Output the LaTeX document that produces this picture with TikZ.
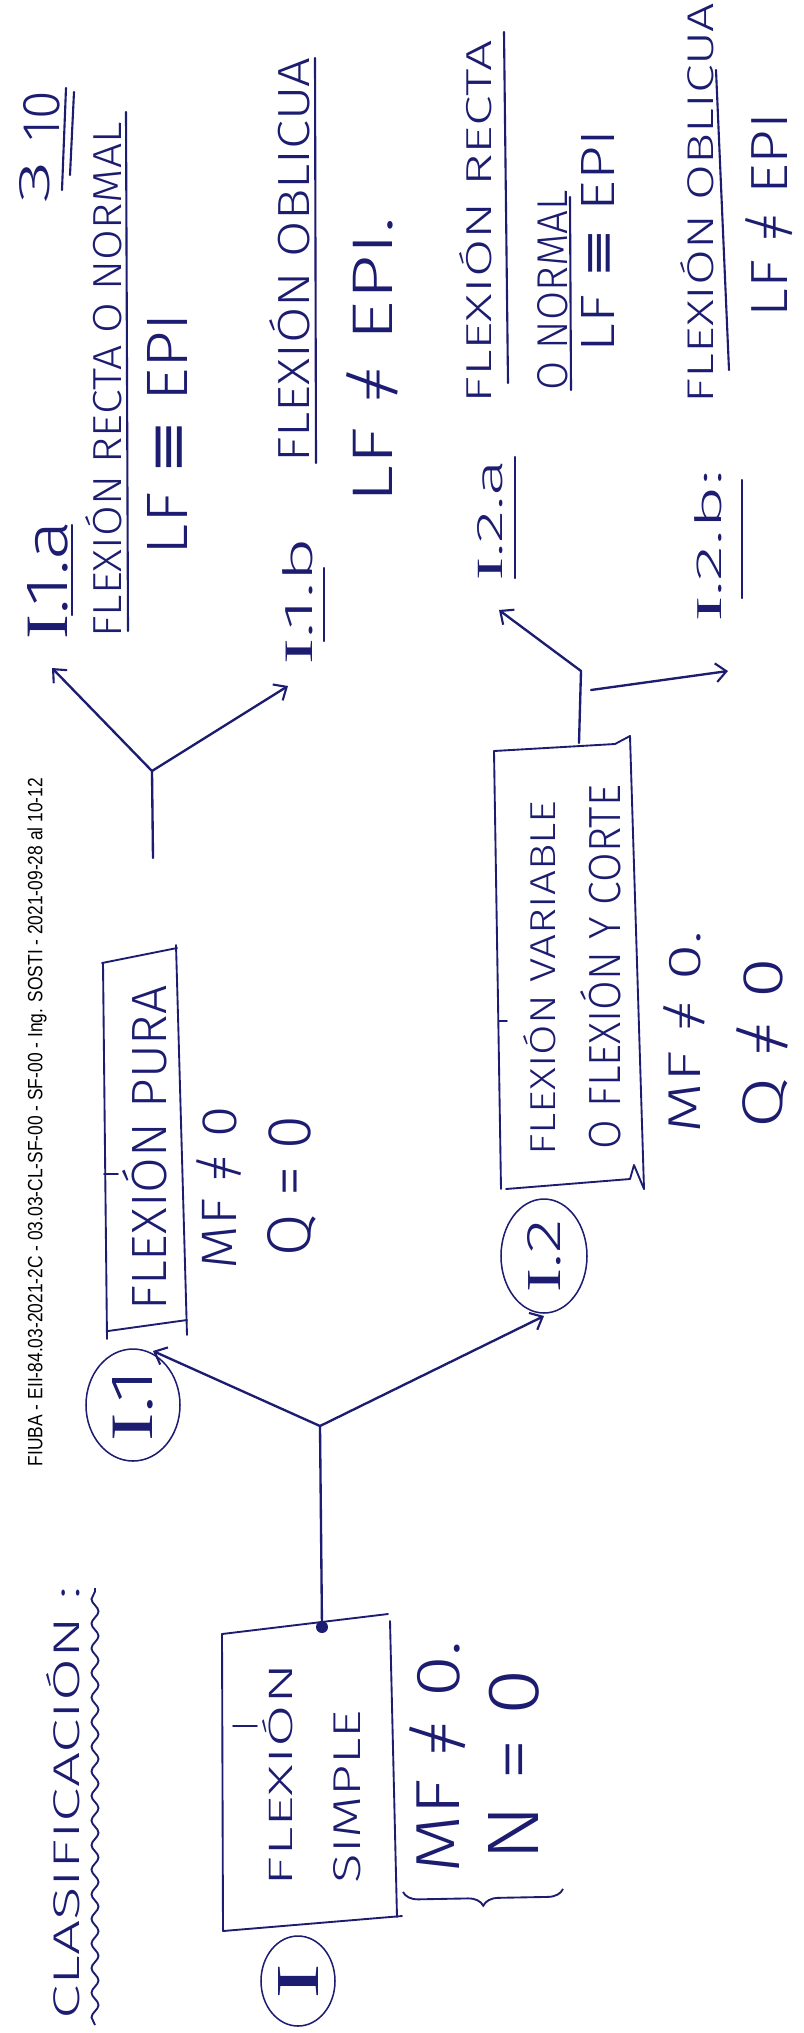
\documentclass[tikz,border=0pt]{standalone}
\usepackage{fontspec}
\usepackage{graphicx}
\usetikzlibrary{arrows.meta,shapes.geometric,decorations.pathmorphing,decorations.pathreplacing}
\IfFontExistsTF{Fira Sans Light}
  {\newfontfamily\hand{Fira Sans Light}}
  {\newfontfamily\hand{DejaVu Sans}}
\newfontfamily\symb{DejaVu Sans}
\newfontfamily\romanI{Liberation Serif}
\newfontfamily\stamp{Liberation Sans}
\definecolor{ink}{RGB}{28,28,112}
\newlength\pxu
\setlength\pxu{0.03cm}
% text squeezed into a box of given length (along the line) and letter height
\newcommand\fitbox[3]{\resizebox{#1\pxu}{#2\pxu}{#3}}
\newcommand\RI{{\romanI I}}
\newcommand\ident{{\symb ≡}}
% a light "not equal": equals sign crossed by a slash
\newcommand\noteq{\ooalign{\hfil/\hfil\cr=\cr}}

\begin{document}
\begin{tikzpicture}[x=0.03cm,y=-0.03cm,
  pen/.style={draw=ink,line width=2pt,line cap=round,line join=round},
  frame/.style={draw=ink,line width=1.6pt,line cap=round,line join=round},
  rule/.style={draw=ink,line width=1.8pt,line cap=round},
  arr/.style={pen,-{Straight Barb[length=9pt,width=16pt,line width=1.8pt]}},
  script/.style={text=ink,inner sep=0pt,rotate=90,font=\hand},
  oval/.style={draw=ink,line width=1.3pt,ellipse,inner sep=0pt,rotate=90,text=ink,font=\hand}]

\fill[white] (0,0) rectangle (803,2033);
\useasboundingbox (0,0) rectangle (803,2033);

% printed header along the left margin
\node[rotate=90,inner sep=0pt,font=\stamp] (stamp) at (37,1122)
  {\fitbox{688}{15}{FIUBA - EII-84.03-2021-2C - 03.03-CL-SF-00 - SF-00 - Ing. SOSTI - 2021-09-28 al 10-12}};

% page number
\node[script] (pg3) at (35,182) {\fitbox{43}{30}{3}};
\node[script] (pg10) at (42,116) {\fitbox{50}{36}{10}};
\coordinate (pgA) at (62,190); \coordinate (pgB) at (66,88);
\coordinate (pgC) at (70,175); \coordinate (pgD) at (74,92);
\draw[rule] (pgA) -- (pgB);
\draw[rule] (pgC) -- (pgD);

% title with wavy underline
\node[script] (title) at (63,1803) {\fitbox{433}{33}{CLASIFICACIÓN :}};
\coordinate (wavyA) at (95,2025); \coordinate (wavyB) at (95,1588);
\draw[draw=ink,line width=1.6pt,decorate,decoration={snake,amplitude=3pt,segment length=21pt}] (wavyA) -- (wavyB);

% ---- level I : flexion simple
\draw[frame] (222,1634) -- (388,1614);
\draw[frame] (222,1634) -- (223,1931);
\draw[frame] (223,1931) -- (402,1916);
\draw[frame] (390,1621) -- (397,1917);
\draw[frame] (233,1726) -- (257,1726);
\node[script] (s1) at (278,1775) {\fitbox{223}{30}{FLEXIÓN}};
\node[script] (s2) at (347,1797) {\fitbox{173}{27}{SIMPLE}};
\node[oval,minimum width=90\pxu,minimum height=74\pxu] (cI) at (298,1981) {\fitbox{36}{40}{\RI}};
\node[script] (s3) at (435,1757) {\fitbox{233}{50}{MF \noteq{} 0.}};
\node[script] (s4) at (514,1765) {\fitbox{192}{50}{N = 0}};
\coordinate (brA) at (563,1889); \coordinate (brB) at (403,1892);
\draw[draw=ink,line width=1.6pt,decorate,decoration={brace,amplitude=13pt}] (brA) -- (brB);

% main split
\coordinate (dot) at (322,1627);
\coordinate (j1) at (320,1426);
\fill[ink] (dot) circle (6);
\draw[pen] (dot) -- (j1);

% ---- I.1 flexion pura
\node[oval,minimum width=112\pxu,minimum height=94\pxu] (c11) at (133,1405) {\fitbox{73}{40}{\RI.1}};
\coordinate (t11) at (153,1351);
\draw[arr] (j1) -- (t11);
\draw[frame] (102,963) -- (177,948);
\draw[frame] (176,945) -- (187,1335);
\draw[frame] (108,1331) -- (187,1320);
\draw[frame] (103,963) -- (107,1339);
\draw[frame] (104,1174) -- (118,1174);
\node[script] (p1) at (145,1148) {\fitbox{325}{44}{FLEXIÓN PURA}};
\node[script] (p2) at (217,1188) {\fitbox{163}{40}{MF \noteq{} 0}};
\node[script] (p3) at (292,1186) {\fitbox{140}{43}{Q = 0}};

% split of I.1
\coordinate (k1) at (153,858);
\coordinate (k1j) at (152,771);
\coordinate (k1a) at (52,668);
\coordinate (k1b) at (288,686);
\draw[pen] (k1) -- (k1j);
\draw[arr] (k1j) -- (k1a);
\draw[arr] (k1j) -- (k1b);

\node[script] (a0) at (48,580) {\fitbox{119}{40}{\RI.1.a}};
\draw[rule] (72,615) -- (72,525);
\node[script] (a1) at (104,380) {\fitbox{515}{36}{FLEXIÓN RECTA O NORMAL}};
\draw[rule] (128,631) -- (126,112);
\node[script] (a2) at (167,434) {\fitbox{242}{40}{LF \ident{} EPI}};

\node[script] (b0) at (298,601) {\fitbox{127}{30}{\RI.1.b}};
\draw[rule] (324,641) -- (324,568);
\node[script] (b1) at (290,260) {\fitbox{405}{40}{FLEXIÓN OBLICUA}};
\draw[rule] (316,463) -- (315,58);
\node[script] (b2) at (370,360) {\fitbox{286}{46}{LF \noteq{} EPI.}};

% ---- I.2 flexion variable
\node[oval,minimum width=114\pxu,minimum height=86\pxu] (c12) at (544,1256) {\fitbox{73}{33}{\RI.2}};
\coordinate (t12) at (544,1316);
\draw[arr] (j1) -- (t12);
\draw[frame] (494,751) -- (615,744) -- (630,736);
\draw[frame] (494,751) -- (501,1189);
\draw[frame] (630,736) -- (644,1189);
\draw[frame] (506,1189) -- (630,1179) -- (634,1165) -- (644,1189);
\draw[frame] (499,1021) -- (507,1021);
\node[script] (v1) at (540,978) {\fitbox{355}{32}{FLEXIÓN VARIABLE}};
\node[script] (v2) at (601,967) {\fitbox{364}{40}{O FLEXIÓN Y CORTE}};
\node[script] (v3) at (682,1032) {\fitbox{202}{37}{MF \noteq{} 0.}};
\node[script] (v4) at (762,1043) {\fitbox{171}{46}{Q \noteq{} 0}};

% split of I.2
\coordinate (k2) at (579,743);
\coordinate (k2j) at (581,671);
\coordinate (k2a) at (499,610);
\coordinate (k2r) at (591,690);
\coordinate (k2b) at (728,671);
\draw[pen] (k2) -- (k2j);
\draw[arr] (k2j) -- (k2a);
\draw[arr] (k2r) -- (k2b);

\node[script] (c0) at (490,520) {\fitbox{121}{25}{\RI.2.a}};
\draw[rule] (515,578) -- (515,457);
\node[script] (c1) at (476,222) {\fitbox{363}{32}{FLEXIÓN RECTA}};
\draw[rule] (508,383) -- (504,32);
\node[script] (c2) at (553,290) {\fitbox{200}{30}{O NORMAL}};
\draw[rule] (571,390) -- (570,197);
\node[script] (c3) at (598,241) {\fitbox{223}{33}{LF \ident{} EPI}};

\node[script] (d0) at (708,546) {\fitbox{151}{27}{\RI.2.b:}};
\draw[rule] (742,598) -- (742,480);
\node[script] (d1) at (697,203) {\fitbox{400}{33}{FLEXIÓN OBLICUA}};
\draw[rule] (729,370) -- (716,70);
\node[script] (d2) at (766,215) {\fitbox{204}{42}{LF \noteq{} EPI}};

\end{tikzpicture}
\end{document}
